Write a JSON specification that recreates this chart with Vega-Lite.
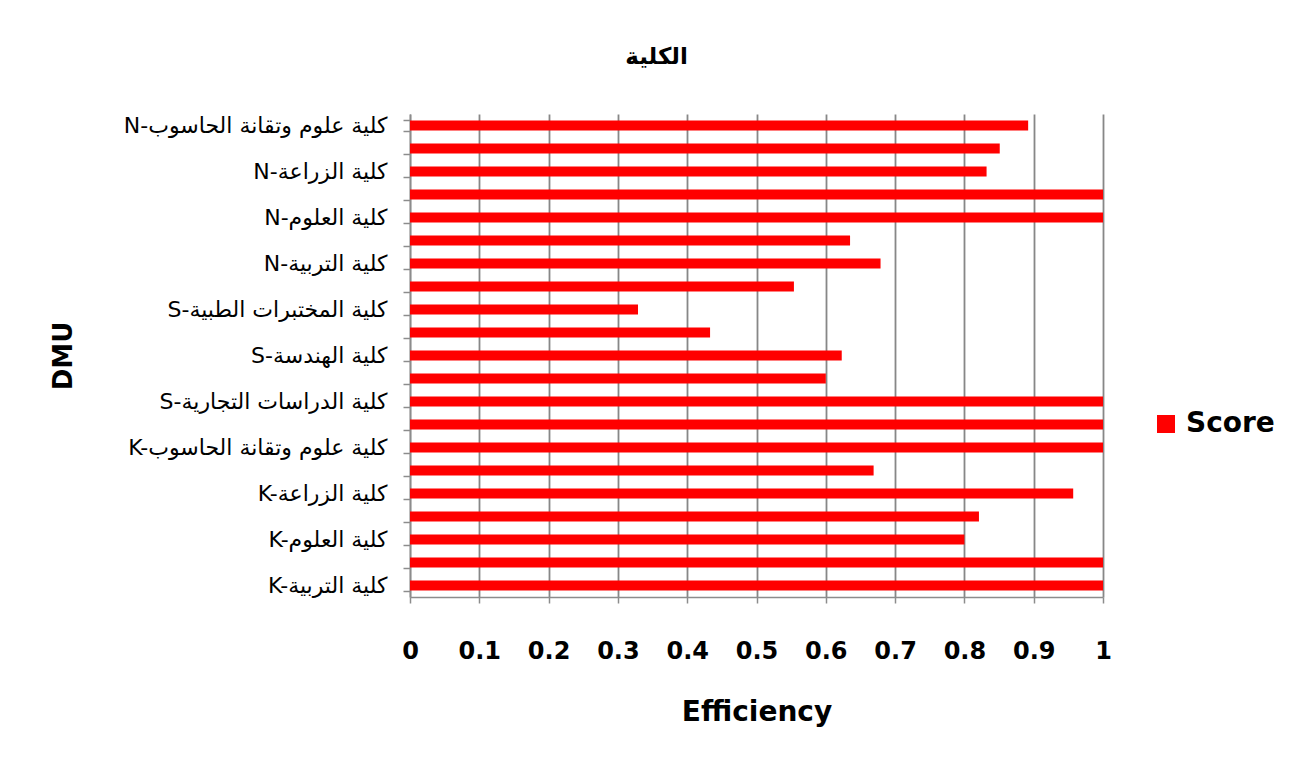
{
  "$schema": "https://vega.github.io/schema/vega-lite/v6.json",
  "autosize": "none",
  "width": 693,
  "height": 483,
  "padding": {"left": 410, "top": 114, "right": 200, "bottom": 166},
  "background": "white",
  "title": {"text": "الكلية", "fontSize": 23, "fontWeight": "bold", "font": "DejaVu Sans", "anchor": "middle", "dx": -100, "offset": 45, "color": "black"},
  "data": {"values": [
    {"DMU": "N-كلية علوم وتقانة الحاسوب", "Efficiency": 0.892, "series": "Score"},
    {"DMU": "N-كلية المختبرات الطبية", "Efficiency": 0.851, "series": "Score"},
    {"DMU": "N-كلية الزراعة", "Efficiency": 0.832, "series": "Score"},
    {"DMU": "N-كلية الهندسة", "Efficiency": 1, "series": "Score"},
    {"DMU": "N-كلية العلوم", "Efficiency": 1, "series": "Score"},
    {"DMU": "N-كلية الدراسات التجارية", "Efficiency": 0.635, "series": "Score"},
    {"DMU": "N-كلية التربية", "Efficiency": 0.679, "series": "Score"},
    {"DMU": "S-كلية علوم وتقانة الحاسوب", "Efficiency": 0.554, "series": "Score"},
    {"DMU": "S-كلية المختبرات الطبية", "Efficiency": 0.329, "series": "Score"},
    {"DMU": "S-كلية الزراعة", "Efficiency": 0.433, "series": "Score"},
    {"DMU": "S-كلية الهندسة", "Efficiency": 0.623, "series": "Score"},
    {"DMU": "S-كلية العلوم", "Efficiency": 0.6, "series": "Score"},
    {"DMU": "S-كلية الدراسات التجارية", "Efficiency": 1, "series": "Score"},
    {"DMU": "S-كلية التربية", "Efficiency": 1, "series": "Score"},
    {"DMU": "K-كلية علوم وتقانة الحاسوب", "Efficiency": 1, "series": "Score"},
    {"DMU": "K-كلية المختبرات الطبية", "Efficiency": 0.669, "series": "Score"},
    {"DMU": "K-كلية الزراعة", "Efficiency": 0.957, "series": "Score"},
    {"DMU": "K-كلية الهندسة", "Efficiency": 0.821, "series": "Score"},
    {"DMU": "K-كلية العلوم", "Efficiency": 0.8, "series": "Score"},
    {"DMU": "K-كلية الدراسات التجارية", "Efficiency": 1, "series": "Score"},
    {"DMU": "K-كلية التربية", "Efficiency": 1, "series": "Score"}
  ]},
  "mark": {"type": "bar"},
  "encoding": {
    "y": {
      "field": "DMU", "type": "nominal", "sort": null,
      "scale": {"paddingInner": 0.565, "paddingOuter": 0.2825},
      "axis": {
        "title": "DMU", "titleFontSize": 26, "titleFontWeight": "bold", "titleFont": "DejaVu Sans", "titleColor": "black",
        "titleAngle": -90, "titleX": -347, "titleY": 241.5, "titleAlign": "center", "titleBaseline": "middle",
        "labelFontSize": 22, "labelColor": "black", "labelFont": "DejaVu Sans", "labelLimit": 500,
        "labelOverlap": "parity", "labelSeparation": 6, "labelPadding": 16,
        "tickSize": 7, "tickColor": "#8c8c8c", "tickWidth": 1.5, "tickBand": "extent",
        "domainColor": "#8c8c8c", "domainWidth": 1.5
      }
    },
    "x": {
      "field": "Efficiency", "type": "quantitative",
      "scale": {"domain": [0, 1], "nice": false},
      "axis": {
        "title": "Efficiency", "values": [0, 0.1, 0.2, 0.3, 0.4, 0.5, 0.6, 0.7, 0.8, 0.9, 1], "format": "~g",
        "labelFontSize": 24, "labelFontWeight": "bold", "labelFont": "DejaVu Sans", "labelColor": "black",
        "labelPadding": 36, "labelFlush": false,
        "tickSize": 6, "tickColor": "#8c8c8c", "tickWidth": 1.5,
        "grid": true, "gridColor": "#878787", "gridWidth": 1.8,
        "domainColor": "#8c8c8c", "domainWidth": 1.5,
        "titleFontSize": 28, "titleFont": "DejaVu Sans", "titleFontWeight": "bold", "titleColor": "black", "titlePadding": 35
      }
    },
    "color": {
      "field": "series", "type": "nominal",
      "scale": {"range": ["#ff0000"]},
      "legend": {
        "title": null, "orient": "none", "legendX": 742, "legendY": 296,
        "symbolType": "square", "symbolSize": 324, "symbolStrokeWidth": 0, "symbolOpacity": 1,
        "labelFontSize": 28, "labelFontWeight": "bold", "labelFont": "DejaVu Sans", "labelColor": "black",
        "labelOffset": 6, "padding": 0
      }
    }
  },
  "config": {"view": {"stroke": null}}
}
